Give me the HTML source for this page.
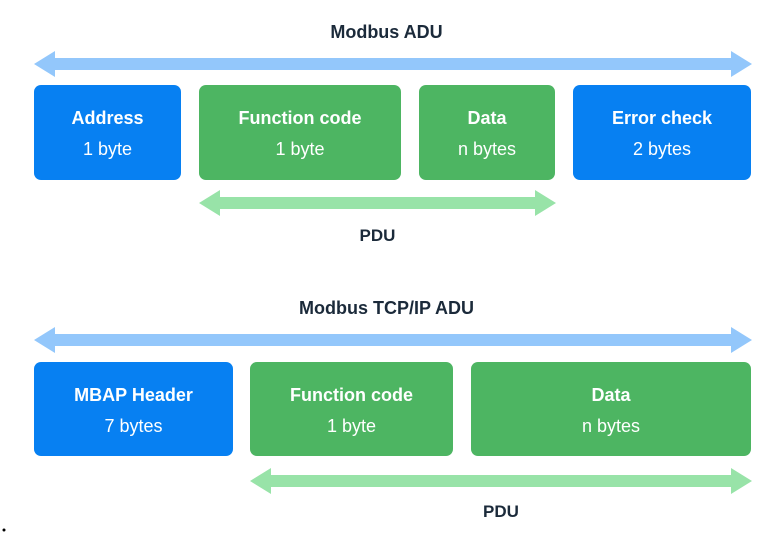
<!DOCTYPE html>
<html><head><meta charset="utf-8"><style>
body{margin:0;width:773px;height:537px;background:#fff;position:relative;overflow:hidden;font-family:"Liberation Sans",sans-serif}
.b{position:absolute;border-radius:7px;color:#fff;text-align:center;box-sizing:border-box}
.b .t{font-weight:bold;font-size:18px;margin-top:23px}
.b .s{font-size:18px;margin-top:10px}
.bl{background:#0780f2}.gr{background:#4db562}
.l{position:absolute;font-weight:bold;font-size:17px;color:#1b2a3a;text-align:center}
svg{position:absolute;left:0;top:0}
</style></head><body>
<svg width="773" height="537">
<g fill="#93c7fb">
<polygon points="34,64 55,51 55,58 731,58 731,51 752,64 731,77 731,70 55,70 55,77"/>
<polygon points="34,340 55,327 55,334 731,334 731,327 752,340 731,353 731,346 55,346 55,353"/>
</g>
<g fill="#98e3a8">
<polygon points="199,203 220,190 220,197 535,197 535,190 556,203 535,216 535,209 220,209 220,216"/>
<polygon points="250,481 271,468 271,475 731,475 731,468 752,481 731,494 731,487 271,487 271,494"/>
</g>
<circle cx="4" cy="530" r="1.5" fill="#000"/>
</svg>
<div class="l" style="left:0;width:773px;top:22px;font-size:18px">Modbus ADU</div>
<div class="b bl" style="left:34px;top:85px;width:147px;height:95px"><div class="t">Address</div><div class="s">1 byte</div></div>
<div class="b gr" style="left:199px;top:85px;width:202px;height:95px"><div class="t">Function code</div><div class="s">1 byte</div></div>
<div class="b gr" style="left:419px;top:85px;width:136px;height:95px"><div class="t">Data</div><div class="s">n bytes</div></div>
<div class="b bl" style="left:573px;top:85px;width:178px;height:95px"><div class="t">Error check</div><div class="s">2 bytes</div></div>
<div class="l" style="left:199px;width:357px;top:226px">PDU</div>
<div class="l" style="left:0;width:773px;top:298px;font-size:18px">Modbus TCP/IP ADU</div>
<div class="b bl" style="left:34px;top:362px;width:199px;height:94px"><div class="t">MBAP Header</div><div class="s">7 bytes</div></div>
<div class="b gr" style="left:250px;top:362px;width:203px;height:94px"><div class="t">Function code</div><div class="s">1 byte</div></div>
<div class="b gr" style="left:471px;top:362px;width:280px;height:94px"><div class="t">Data</div><div class="s">n bytes</div></div>
<div class="l" style="left:250px;width:502px;top:502px">PDU</div>
</body></html>
